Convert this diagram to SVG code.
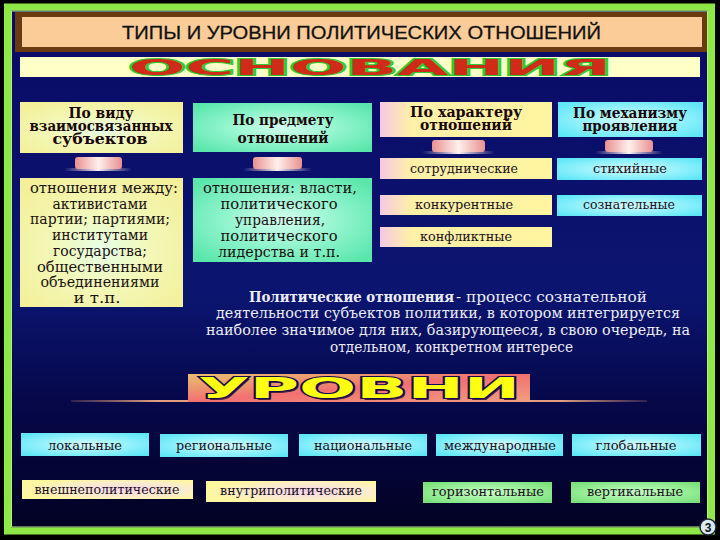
<svg xmlns="http://www.w3.org/2000/svg" width="720" height="540" viewBox="0 0 720 540">
<defs>
<linearGradient id="bgNavy" x1="0" y1="0" x2="0" y2="1">
<stop offset="0" stop-color="#0a0a66"/>
<stop offset="0.55" stop-color="#0b1570"/>
<stop offset="0.75" stop-color="#06084a"/>
<stop offset="1" stop-color="#020222"/>
</linearGradient>
<radialGradient id="gYel" cx="0.5" cy="0.55" r="0.65">
<stop offset="0" stop-color="#e6ffe6"/>
<stop offset="0.45" stop-color="#f2f8b8"/>
<stop offset="1" stop-color="#f4f09a"/>
</radialGradient>
<radialGradient id="gGrn" cx="0.5" cy="0.5" r="0.65">
<stop offset="0" stop-color="#d4fff0"/>
<stop offset="0.5" stop-color="#90f4cc"/>
<stop offset="1" stop-color="#58e6aa"/>
</radialGradient>
<linearGradient id="gYelPink" x1="0" y1="0" x2="1" y2="0">
<stop offset="0" stop-color="#f6c8e4"/>
<stop offset="0.18" stop-color="#fff0a8"/>
<stop offset="1" stop-color="#fff4a0"/>
</linearGradient>
<radialGradient id="gCyan" cx="0.5" cy="0.5" r="0.65">
<stop offset="0" stop-color="#d4fcff"/>
<stop offset="0.5" stop-color="#98f2fc"/>
<stop offset="1" stop-color="#5ce6f6"/>
</radialGradient>
<radialGradient id="gYP" cx="0.6" cy="0.5" r="0.6">
<stop offset="0" stop-color="#f8d4f0"/>
<stop offset="0.6" stop-color="#fbeccc"/>
<stop offset="1" stop-color="#fff6a0"/>
</radialGradient>
<radialGradient id="gLG" cx="0.5" cy="0.5" r="0.65">
<stop offset="0" stop-color="#c8ffc8"/>
<stop offset="0.6" stop-color="#98ee98"/>
<stop offset="1" stop-color="#78e078"/>
</radialGradient>
<linearGradient id="gPed" x1="0" y1="0" x2="1" y2="0">
<stop offset="0" stop-color="#e89090"/>
<stop offset="0.5" stop-color="#fff0ec"/>
<stop offset="1" stop-color="#e89090"/>
</linearGradient>
<linearGradient id="gPedLine" x1="0" y1="0" x2="1" y2="0">
<stop offset="0" stop-color="#ffe0e0" stop-opacity="0"/>
<stop offset="0.5" stop-color="#fff0f0"/>
<stop offset="1" stop-color="#ffe0e0" stop-opacity="0"/>
</linearGradient>
<linearGradient id="gUrov" x1="0" y1="0" x2="1" y2="1">
<stop offset="0" stop-color="#e8c070"/>
<stop offset="0.5" stop-color="#f27070"/>
<stop offset="1" stop-color="#f0a080"/>
</linearGradient>
<linearGradient id="gUrLine" x1="0" y1="0" x2="1" y2="0">
<stop offset="0" stop-color="#d89070" stop-opacity="0.2"/>
<stop offset="0.15" stop-color="#e0a080"/>
<stop offset="0.85" stop-color="#e0a080"/>
<stop offset="1" stop-color="#d89070" stop-opacity="0.2"/>
</linearGradient>
</defs>
<style>
.hd{font-family:"DejaVu Serif","Liberation Serif",serif;font-weight:bold;font-size:14px;fill:#1a0808;text-anchor:middle}
.bd{font-family:"DejaVu Serif","Liberation Serif",serif;font-size:15px;fill:#1a1010;text-anchor:middle}
.sm{font-family:"DejaVu Serif","Liberation Serif",serif;font-size:13px;fill:#201020;text-anchor:middle}
.df{font-family:"DejaVu Serif","Liberation Serif",serif;font-size:15px;fill:#ececf4}
.ped{fill:url(#gPed)}
.pl{fill:url(#gPedLine)}
</style>
<rect x="0" y="0" width="720" height="540" fill="#000"/>
<rect x="10" y="10" width="700" height="520" fill="url(#bgNavy)"/>
<rect x="7.5" y="7" width="704" height="524" fill="none" stroke="#8ee845" stroke-width="7"/>
<rect x="11.5" y="11" width="696" height="516" fill="none" stroke="#b8f080" stroke-width="1"/>

<g id="title">
<rect x="15" y="12" width="692" height="40" fill="#6a3a10"/>
<rect x="22" y="17" width="680" height="30" fill="#fccc98"/>
<text x="361.5" y="39" font-family="'Liberation Sans',Arial,sans-serif" font-size="19" fill="#111" stroke="#111" stroke-width="0.3" text-anchor="middle" textLength="479" lengthAdjust="spacingAndGlyphs">ТИПЫ И УРОВНИ ПОЛИТИЧЕСКИХ ОТНОШЕНИЙ</text>
</g>

<g id="osnovaniya">
<rect x="20" y="57" width="680" height="20" fill="#ffffc8"/>
<text x="370" y="75" font-family="'DejaVu Sans',sans-serif" font-weight="bold" font-size="21" fill="#d02a18" stroke="#2ecc30" stroke-width="2" paint-order="stroke" text-anchor="middle" textLength="482" lengthAdjust="spacingAndGlyphs">ОСНОВАНИЯ</text>
</g>

<g id="box-vid">
<rect x="20" y="102" width="163" height="51" fill="url(#gYel)"/>
<text class="hd" x="101" y="118" textLength="65" lengthAdjust="spacingAndGlyphs">По виду</text>
<text class="hd" x="101" y="131" textLength="143" lengthAdjust="spacingAndGlyphs">взаимосвязанных</text>
<text class="hd" x="100" y="144" textLength="95" lengthAdjust="spacingAndGlyphs">субъектов</text>
</g>
<g id="box-predmet">
<rect x="193" y="103" width="179" height="49" fill="url(#gGrn)"/>
<text class="hd" x="283" y="125" textLength="101" lengthAdjust="spacingAndGlyphs">По предмету</text>
<text class="hd" x="283" y="143" textLength="91" lengthAdjust="spacingAndGlyphs">отношений</text>
</g>
<g id="box-harakter">
<rect x="380" y="102" width="172" height="35" fill="url(#gYelPink)"/>
<text class="hd" x="466" y="117" textLength="112" lengthAdjust="spacingAndGlyphs">По характеру</text>
<text class="hd" x="466" y="130" textLength="92" lengthAdjust="spacingAndGlyphs">отношений</text>
</g>
<g id="box-mehanizm">
<rect x="558" y="102" width="145" height="35" fill="url(#gCyan)"/>
<text class="hd" x="630" y="118" textLength="114" lengthAdjust="spacingAndGlyphs">По механизму</text>
<text class="hd" x="630" y="131" textLength="95" lengthAdjust="spacingAndGlyphs">проявления</text>
</g>

<g id="connectors">
<rect class="pl" x="64" y="168" width="68" height="3"/>
<rect class="ped" x="75" y="157" width="47" height="12" rx="3"/>
<rect class="pl" x="243" y="168" width="69" height="3"/>
<rect class="ped" x="253" y="157" width="49" height="12" rx="3"/>
<rect class="pl" x="422" y="151" width="73" height="3"/>
<rect class="ped" x="432" y="140" width="53" height="12" rx="3"/>
<rect class="pl" x="595" y="151" width="68" height="3"/>
<rect class="ped" x="605" y="140" width="48" height="12" rx="3"/>
<rect x="71" y="400" width="576" height="2" fill="url(#gUrLine)"/>
</g>

<g id="box-mezhdu">
<rect x="20" y="178" width="163" height="129" fill="url(#gYel)"/>
<text class="bd" x="104" y="193" textLength="148" lengthAdjust="spacingAndGlyphs">отношения между:</text>
<text class="bd" x="100" y="208.7" textLength="95" lengthAdjust="spacingAndGlyphs">активистами</text>
<text class="bd" x="100" y="224.4" textLength="140" lengthAdjust="spacingAndGlyphs">партии; партиями;</text>
<text class="bd" x="100" y="240.1" textLength="96" lengthAdjust="spacingAndGlyphs">институтами</text>
<text class="bd" x="100" y="255.8" textLength="94" lengthAdjust="spacingAndGlyphs">государства;</text>
<text class="bd" x="100" y="271.5" textLength="126" lengthAdjust="spacingAndGlyphs">общественными</text>
<text class="bd" x="100" y="287.2" textLength="119" lengthAdjust="spacingAndGlyphs">объединениями</text>
<text class="bd" x="97" y="302.9" textLength="47" lengthAdjust="spacingAndGlyphs">и т.п.</text>
</g>
<g id="box-vlasti">
<rect x="193" y="178" width="179" height="84" fill="url(#gGrn)"/>
<text class="bd" x="280" y="193" textLength="154" lengthAdjust="spacingAndGlyphs">отношения: власти,</text>
<text class="bd" x="279" y="209" textLength="117" lengthAdjust="spacingAndGlyphs">политического</text>
<text class="bd" x="280" y="225" textLength="90" lengthAdjust="spacingAndGlyphs">управления,</text>
<text class="bd" x="279" y="241" textLength="117" lengthAdjust="spacingAndGlyphs">политического</text>
<text class="bd" x="279" y="257" textLength="122" lengthAdjust="spacingAndGlyphs">лидерства и т.п.</text>
</g>

<g id="box-sotr">
<rect x="380" y="158" width="172" height="21" fill="url(#gYelPink)"/>
<text class="sm" x="464" y="173" textLength="108" lengthAdjust="spacingAndGlyphs">сотруднические</text>
</g>
<g id="box-konk">
<rect x="380" y="195" width="172" height="20" fill="url(#gYelPink)"/>
<text class="sm" x="464" y="209" textLength="98" lengthAdjust="spacingAndGlyphs">конкурентные</text>
</g>
<g id="box-konf">
<rect x="380" y="227" width="172" height="20" fill="url(#gYelPink)"/>
<text class="sm" x="466" y="241" textLength="92" lengthAdjust="spacingAndGlyphs">конфликтные</text>
</g>
<g id="box-stih">
<rect x="557" y="158" width="145" height="22" fill="url(#gCyan)"/>
<text class="sm" x="630" y="173" textLength="74" lengthAdjust="spacingAndGlyphs">стихийные</text>
</g>
<g id="box-soz">
<rect x="557" y="195" width="145" height="21" fill="url(#gCyan)"/>
<text class="sm" x="629" y="209" textLength="92" lengthAdjust="spacingAndGlyphs">сознательные</text>
</g>

<g id="definition">
<text class="df" x="249" y="302" font-weight="bold" textLength="205" lengthAdjust="spacingAndGlyphs">Политические отношения</text>
<text class="df" x="456" y="302" textLength="191" lengthAdjust="spacingAndGlyphs"> - процесс сознательной</text>
<text class="df" x="216" y="318" textLength="464" lengthAdjust="spacingAndGlyphs">деятельности субъектов политики, в котором интегрируется</text>
<text class="df" x="206" y="335" textLength="484" lengthAdjust="spacingAndGlyphs">наиболее значимое для них, базирующееся, в свою очередь, на</text>
<text class="df" x="330" y="352" textLength="243" lengthAdjust="spacingAndGlyphs">отдельном, конкретном интересе</text>
</g>

<g id="urovni">
<rect x="188" y="374" width="342" height="28" fill="url(#gUrov)"/>
<text x="361" y="400" font-family="'DejaVu Sans',sans-serif" font-weight="bold" font-size="29" fill="#4a2040" text-anchor="middle" textLength="322" lengthAdjust="spacingAndGlyphs">УРОВНИ</text>
<text x="359" y="398" font-family="'DejaVu Sans',sans-serif" font-weight="bold" font-size="29" fill="#ffff10" stroke="#140a50" stroke-width="2" paint-order="stroke" text-anchor="middle" textLength="322" lengthAdjust="spacingAndGlyphs">УРОВНИ</text>
</g>

<g id="lvl-lok">
<rect x="21" y="433" width="128" height="23" fill="url(#gCyan)"/>
<text class="sm" x="85" y="450" textLength="74" lengthAdjust="spacingAndGlyphs">локальные</text>
</g>
<g id="lvl-reg">
<rect x="160" y="434" width="128" height="23" fill="url(#gCyan)"/>
<text class="sm" x="224" y="450" textLength="96" lengthAdjust="spacingAndGlyphs">региональные</text>
</g>
<g id="lvl-nac">
<rect x="299" y="434" width="128" height="22" fill="url(#gCyan)"/>
<text class="sm" x="363" y="450" textLength="98" lengthAdjust="spacingAndGlyphs">национальные</text>
</g>
<g id="lvl-mezhd">
<rect x="436" y="434" width="127" height="22" fill="url(#gCyan)"/>
<text class="sm" x="500" y="450" textLength="112" lengthAdjust="spacingAndGlyphs">международные</text>
</g>
<g id="lvl-glob">
<rect x="572" y="434" width="129" height="22" fill="url(#gCyan)"/>
<text class="sm" x="636" y="450" textLength="81" lengthAdjust="spacingAndGlyphs">глобальные</text>
</g>

<g id="lvl-vnesh">
<rect x="22" y="480" width="171" height="19" fill="url(#gYP)"/>
<text class="sm" x="107" y="494" textLength="145" lengthAdjust="spacingAndGlyphs">внешнеполитические</text>
</g>
<g id="lvl-vnutr">
<rect x="206" y="481" width="170" height="21" fill="url(#gYP)"/>
<text class="sm" x="291" y="495" textLength="142" lengthAdjust="spacingAndGlyphs">внутриполитические</text>
</g>
<g id="lvl-gor">
<rect x="423" y="482" width="129" height="21" fill="url(#gLG)"/>
<text class="sm" x="488" y="496" textLength="112" lengthAdjust="spacingAndGlyphs">горизонтальные</text>
</g>
<g id="lvl-vert">
<rect x="571" y="482" width="129" height="21" fill="url(#gLG)"/>
<text class="sm" x="635" y="496" textLength="96" lengthAdjust="spacingAndGlyphs">вертикальные</text>
</g>

<g id="page-num">
<circle cx="708" cy="527" r="8" fill="#d8ecf4" stroke="#223" stroke-width="1.5"/>
<text x="708" y="531.5" font-family="'Liberation Sans',Arial,sans-serif" font-weight="bold" font-size="12" fill="#111" text-anchor="middle">3</text>
</g>
</svg>
